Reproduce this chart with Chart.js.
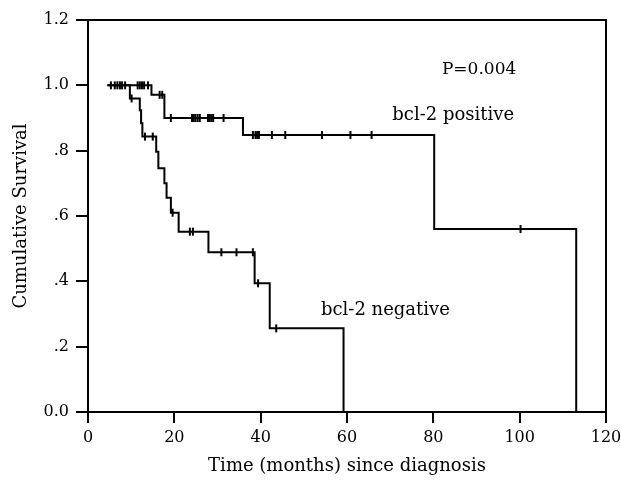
<!DOCTYPE html>
<html lang="en">
<head>
    <meta charset="UTF-8">
    <title>Cumulative Survival by bcl-2 status</title>
    <script src="https://cdn.jsdelivr.net/npm/chart.js"></script>
    <style>
        body { margin: 0; background: #fff; }
        #wrap { width: 621px; height: 490px; }
    </style>
</head>
<body>
    <div id="wrap"><canvas id="kmChart" width="621" height="490"></canvas></div>

    <script>
        // bcl-2 positive: first follow-up time, event times, survival after each event, censored times
        const posStart = 4.5;
        const posEventTimes = [14.7, 17.7, 35.9, 80.2, 113.1];
        const posSurvival = [0.971, 0.90, 0.848, 0.56, 0];
        const posCensored = [5.3, 6.2, 6.8, 7.4, 7.9, 8.6, 11.5, 12.0, 12.5, 13.0, 13.9,
            16.6, 17.2,
            19.2, 24.1, 24.5, 24.9, 25.4, 25.9, 27.8, 28.2, 28.6, 29.0, 31.4,
            38.2, 38.8, 39.2, 39.6, 42.6, 45.7, 54.2, 60.8, 65.7,
            100.2];

        // bcl-2 negative
        const negStart = 4.5;
        const negEventTimes = [9.7, 12.0, 12.3, 12.6, 15.8, 16.3, 17.7, 18.2, 19.2, 21.0, 27.9, 38.6, 42.1, 59.2];
        const negSurvival = [0.96, 0.924, 0.884, 0.843, 0.797, 0.746, 0.70, 0.656, 0.61, 0.552, 0.489, 0.394, 0.256, 0];
        const negCensored = [10.1, 13.2, 15.0, 19.6, 23.6, 24.3, 30.9, 34.4, 38.2, 39.4, 43.6];

        const yTickLabels = ['0.0', '.2', '.4', '.6', '.8', '1.0', '1.2'];

        Chart.defaults.font.family = 'DejaVu Serif';
        Chart.defaults.font.size = 16;
        Chart.defaults.color = '#000';

        // step curve points: starts at 1.0, then the value after each event
        function curvePoints(start, times, surv) {
            const pts = [{ x: start, y: 1 }];
            times.forEach((t, i) => pts.push({ x: t, y: surv[i] }));
            return pts;
        }

        // survival level at time t (for placing censor ticks on the curve)
        function survivalAt(t, times, surv) {
            let s = 1;
            times.forEach((et, i) => { if (et <= t) s = surv[i]; });
            return s;
        }

        function censorPoints(cens, times, surv) {
            return cens.map(t => ({ x: t, y: survivalAt(t, times, surv) }));
        }

        const curveStyle = {
            showLine: true,
            stepped: 'before',
            pointRadius: 0,
            borderColor: '#000',
            borderWidth: 2,
            fill: false
        };
        const censorStyle = {
            showLine: false,
            pointStyle: 'line',
            rotation: 90,
            pointRadius: 4,
            pointBorderWidth: 2,
            borderColor: '#000',
            backgroundColor: '#000'
        };

        // frame + in-plot labels
        const annotations = {
            id: 'annotations',
            afterDraw(chart) {
                const { ctx, chartArea, scales } = chart;
                ctx.save();
                ctx.strokeStyle = '#000';
                ctx.lineWidth = 2;
                ctx.strokeRect(chartArea.left, chartArea.top, chartArea.right - chartArea.left, chartArea.bottom - chartArea.top);

                ctx.fillStyle = '#000';
                ctx.textAlign = 'center';
                ctx.textBaseline = 'middle';
                ctx.font = '17px "DejaVu Serif"';
                ctx.fillText('P=0.004', scales.x.getPixelForValue(90.6), scales.y.getPixelForValue(1.047));
                ctx.font = '18px "DejaVu Serif"';
                ctx.fillText('bcl-2 positive', scales.x.getPixelForValue(84.6), scales.y.getPixelForValue(0.909));
                ctx.fillText('bcl-2 negative', scales.x.getPixelForValue(68.9), scales.y.getPixelForValue(0.312));
                ctx.restore();
            }
        };

        const ctx = document.getElementById('kmChart').getContext('2d');
        new Chart(ctx, {
            type: 'scatter',
            data: {
                datasets: [
                    Object.assign({ label: 'bcl-2 positive', data: curvePoints(posStart, posEventTimes, posSurvival) }, curveStyle),
                    Object.assign({ label: 'bcl-2 negative', data: curvePoints(negStart, negEventTimes, negSurvival) }, curveStyle),
                    Object.assign({ label: 'positive censored', data: censorPoints(posCensored, posEventTimes, posSurvival) }, censorStyle),
                    Object.assign({ label: 'negative censored', data: censorPoints(negCensored, negEventTimes, negSurvival) }, censorStyle)
                ]
            },
            options: {
                responsive: false,
                animation: false,
                devicePixelRatio: 1,
                layout: { padding: { top: 20, right: 15, left: 0, bottom: 0 } },
                plugins: {
                    legend: { display: false },
                    tooltip: { enabled: false }
                },
                scales: {
                    x: {
                        type: 'linear',
                        min: 0,
                        max: 120,
                        ticks: { stepSize: 20, padding: 5, color: '#000' },
                        grid: { drawOnChartArea: false, drawTicks: true, tickLength: 11, color: '#000', lineWidth: 2 },
                        border: { display: true, color: '#000', width: 2 },
                        title: {
                            display: true,
                            text: 'Time (months) since diagnosis',
                            color: '#000',
                            font: { size: 18 },
                            padding: { top: 0, bottom: 13 }
                        },
                        afterFit(scale) {
                            scale.height = 78;
                            scale.paddingLeft = 0;
                            scale.paddingRight = 0;
                        }
                    },
                    y: {
                        type: 'linear',
                        min: 0,
                        max: 1.2,
                        ticks: {
                            stepSize: 0.2,
                            padding: 7,
                            color: '#000',
                            callback: (v, i) => yTickLabels[i]
                        },
                        grid: { drawOnChartArea: false, drawTicks: true, tickLength: 12, color: '#000', lineWidth: 2 },
                        border: { display: true, color: '#000', width: 2 },
                        title: {
                            display: true,
                            text: 'Cumulative Survival',
                            color: '#000',
                            font: { size: 18 },
                            padding: { top: 11, bottom: 0 }
                        },
                        afterFit(scale) {
                            scale.width = 88;
                            scale.paddingTop = 0;
                            scale.paddingBottom = 0;
                        }
                    }
                }
            },
            plugins: [annotations]
        });
    </script>
</body>
</html>
